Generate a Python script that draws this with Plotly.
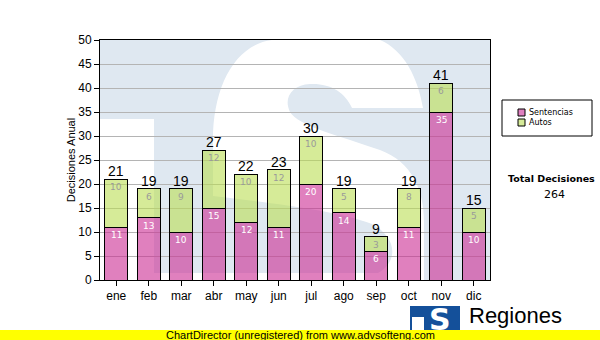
import plotly.graph_objects as go

meses = ["ene", "feb", "mar", "abr", "may", "jun", "jul", "ago", "sep", "oct", "nov", "dic"]
sentencias = [11, 13, 10, 15, 12, 11, 20, 14, 6, 11, 35, 10]
autos = [10, 6, 9, 12, 10, 12, 10, 5, 3, 8, 6, 5]
totales = [s + a for s, a in zip(sentencias, autos)]
total_decisiones = sum(totales)

PINK = "rgba(203,43,147,0.6)"
GREEN = "rgba(187,222,83,0.6)"
PINK_SOLID = "#df80c0"
GREEN_SOLID = "#d5ea98"

# plot area in pixels
L, R, T, B = 100, 490, 40, 280


def xp(px):
    return (px - L) / (R - L)


def yp(py):
    return (B - py) / (B - T)


def path(cmds):
    out = []
    for c in cmds:
        if isinstance(c, str):
            out.append(c)
        else:
            out.append(f"{xp(c[0]):.4f},{yp(c[1]):.4f}")
    return " ".join(out)


fig = go.Figure()
fig.add_bar(x=meses, y=sentencias, name="Sentencias", marker=dict(color=PINK, line=dict(color="black", width=1)),
            showlegend=False, hoverinfo="skip")
fig.add_bar(x=meses, y=autos, name="Autos", marker=dict(color=GREEN, line=dict(color="black", width=1)),
            showlegend=False, hoverinfo="skip")

shapes = []
# watermark: white S and T cut-outs on light blue background
s_path = path([
    "M", (213, 196), "L", (213, 140),
    "C", (213, 88), (234, 45), (272, 40),
    "L", (380, 40),
    "C", (404, 50), (418, 78), (423, 108),
    "L", (352, 108),
    "C", (345, 92), (330, 83), (310, 84),
    "C", (292, 85), (283, 98), (290, 112),
    "C", (298, 126), (340, 136), (380, 150),
    "C", (412, 162), (424, 190), (424, 222),
    "L", (424, 280), "L", (154, 280), "L", (154, 273), "L", (378, 273),
    "C", (398, 262), (398, 238), (372, 224),
    "C", (335, 210), (270, 203), (213, 196), "Z",
])
shapes.append(dict(type="path", xref="paper", yref="paper", path=s_path,
                   fillcolor="white", line=dict(width=0), layer="below"))
shapes.append(dict(type="rect", xref="paper", yref="paper", x0=xp(100), x1=xp(154), y0=yp(280), y1=yp(119),
                   fillcolor="white", line=dict(width=0), layer="below"))

# legend box
shapes.append(dict(type="rect", xref="paper", yref="paper", x0=xp(502), x1=xp(592), y0=yp(136), y1=yp(100),
                   fillcolor="white", line=dict(color="black", width=1)))
shapes.append(dict(type="rect", xref="paper", yref="paper", x0=xp(518), x1=xp(525), y0=yp(116), y1=yp(109),
                   fillcolor=PINK_SOLID, line=dict(color="black", width=1)))
shapes.append(dict(type="rect", xref="paper", yref="paper", x0=xp(518), x1=xp(525), y0=yp(126), y1=yp(119),
                   fillcolor=GREEN_SOLID, line=dict(color="black", width=1)))

# logo
shapes.append(dict(type="rect", xref="paper", yref="paper", x0=xp(410), x1=xp(460), y0=yp(340), y1=yp(306),
                   fillcolor="#14509a", line=dict(width=0)))
shapes.append(dict(type="rect", xref="paper", yref="paper", x0=xp(412), x1=xp(424), y0=yp(340), y1=yp(317),
                   fillcolor="white", line=dict(width=0)))
# yellow band
shapes.append(dict(type="rect", xref="paper", yref="paper", x0=xp(0), x1=xp(600), y0=yp(341), y1=yp(330),
                   fillcolor="#ffff00", line=dict(width=0)))

annotations = []
for m, s, a, t in zip(meses, sentencias, autos, totales):
    annotations.append(dict(x=m, y=t, text=str(t), showarrow=False, yanchor="middle", yshift=8,
                            font=dict(family="Liberation Sans, Arial", size=14, color="black")))
    annotations.append(dict(x=m, y=s, text=str(s), showarrow=False, yanchor="middle", yshift=-8,
                            font=dict(family="DejaVu Sans", size=9, color="white")))
    annotations.append(dict(x=m, y=t, text=str(a), showarrow=False, yanchor="middle", yshift=-8,
                            font=dict(family="DejaVu Sans", size=9, color="#9a9a9a")))

annotations += [
    dict(xref="paper", yref="paper", x=xp(527), y=yp(117.5), text="Sentencias<br>Autos", showarrow=False,
         xanchor="left", yanchor="middle", align="left",
         font=dict(family="DejaVu Sans", size=8, color="black")),
    dict(xref="paper", yref="paper", x=xp(551.5), y=yp(178.5), text="<b>Total Decisiones</b>", showarrow=False,
         xanchor="center", yanchor="middle", font=dict(family="DejaVu Sans", size=9.5, color="black")),
    dict(xref="paper", yref="paper", x=xp(554), y=yp(195), text=str(total_decisiones), showarrow=False,
         xanchor="center", yanchor="middle", font=dict(family="DejaVu Sans", size=11, color="black")),
    dict(xref="paper", yref="paper", x=xp(440), y=yp(319), text="<b>S</b>", showarrow=False,
         xanchor="center", yanchor="middle", font=dict(family="DejaVu Sans", size=30, color="white")),
    dict(xref="paper", yref="paper", x=xp(467), y=yp(315), text="Regiones", showarrow=False,
         xanchor="left", yanchor="middle", font=dict(family="Liberation Sans, Arial", size=22, color="black")),
    dict(xref="paper", yref="paper", x=xp(300), y=yp(335), text="ChartDirector (unregistered) from www.advsofteng.com",
         showarrow=False, xanchor="center", yanchor="middle",
         font=dict(family="Liberation Sans, Arial", size=11, color="black")),
]

fig.update_layout(
    width=600, height=340,
    margin=dict(l=L, r=600 - R, t=T, b=340 - B, pad=0),
    barmode="stack", bargap=0.29,
    paper_bgcolor="white", plot_bgcolor="#dfe8f1",
    shapes=shapes, annotations=annotations,
    font=dict(family="Liberation Sans, Arial", size=12, color="black"),
    xaxis=dict(showline=True, linecolor="black", linewidth=1, mirror=True, ticks="outside", ticklen=5,
               tickcolor="black", showgrid=False, tickfont=dict(size=12)),
    yaxis=dict(range=[0, 50], dtick=5, showline=True, linecolor="black", linewidth=1, mirror=True,
               ticks="outside", ticklen=5, tickcolor="black", gridcolor="#b4b4b4", gridwidth=1,
               zeroline=False, tickfont=dict(size=12),
               title=dict(text="Decisiones Anual", font=dict(size=11), standoff=0)),
    showlegend=False,
)

fig.write_html("out.html")
